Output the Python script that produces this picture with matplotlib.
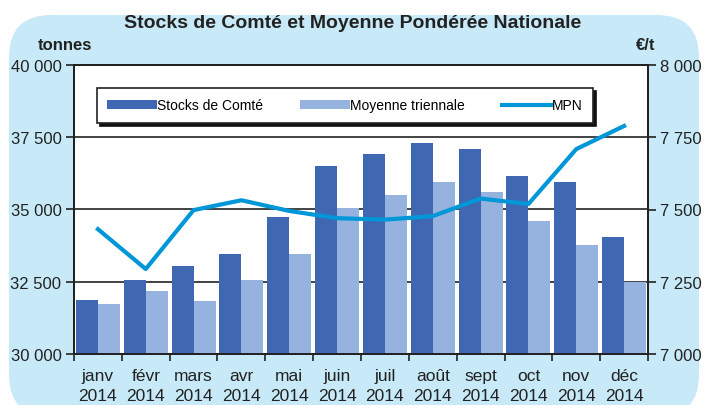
import matplotlib
matplotlib.use('Agg')
import matplotlib.pyplot as plt
import numpy as np
from matplotlib.patches import FancyBboxPatch, Patch
from matplotlib.lines import Line2D

plt.rcParams['font.family'] = ['Liberation Sans', 'DejaVu Sans']

# data
mois = ['janv', 'févr', 'mars', 'avr', 'mai', 'juin', 'juil', 'août', 'sept', 'oct', 'nov', 'déc']
annee = '2014'
stocks = [31870, 32560, 33050, 33460, 34740, 36500, 36920, 37300, 37090, 36160, 35950, 34050]
moyenne = [31730, 32180, 31830, 32560, 33460, 35050, 35500, 35950, 35600, 34600, 33770, 32490]
mpn = [7432, 7294, 7498, 7532, 7495, 7470, 7465, 7477, 7538, 7519, 7709, 7789]

dark = '#4068B2'
light = '#95B3DE'
line_col = '#0097D8'
bg = '#C7E9F8'

W, H = 706, 406
fig = plt.figure(figsize=(W / 100, H / 100), dpi=100)

# rounded light-blue panel
panel = FancyBboxPatch((9 / W, -12 / H), 690 / W, 402 / H,
                       boxstyle='round,pad=0,rounding_size=0.06',
                       transform=fig.transFigure, facecolor=bg, edgecolor='none',
                       mutation_aspect=W / H, zorder=0)
fig.patches.append(panel)

ax = fig.add_axes([74 / W, 1 - 355 / H, (648 - 74) / W, (355 - 66) / H])
ax.set_zorder(2)
ax.set_facecolor('white')

x = np.arange(len(mois))
bw = 0.46
ax.bar(x - bw / 2, stocks, width=bw, color=dark, zorder=3)
ax.bar(x + bw / 2, moyenne, width=bw, color=light, zorder=3)

ax.set_ylim(30000, 40000)
ax.set_xlim(-0.5, len(mois) - 0.5)
yt = [30000, 32500, 35000, 37500, 40000]
ax.set_yticks(yt)
ax.set_yticklabels([f'{v:,}'.replace(',', ' ') for v in yt], fontsize=12, color='#222222')
ax.yaxis.grid(True, color='#222222', linewidth=1.2, zorder=1)
ax.set_axisbelow(True)

ax.set_xticks(x)
ax.set_xticklabels([f'{m}\n{annee}' for m in mois], fontsize=12.5, color='#222222', linespacing=1.45)
ax.set_xticks(np.arange(-0.5, len(mois)), minor=True)
ax.tick_params(axis='x', which='major', length=0, pad=10)
ax.tick_params(axis='x', which='minor', length=5, width=1.2, color='#222222')
ax.tick_params(axis='y', length=6, width=1.2, color='#222222', pad=3)
for s in ax.spines.values():
    s.set_linewidth(1.4)
    s.set_color('#222222')

ax2 = ax.twinx()
ax2.plot(x, mpn, color=line_col, linewidth=3, zorder=5)
ax2.set_ylim(7000, 8000)
yt2 = [7000, 7250, 7500, 7750, 8000]
ax2.set_yticks(yt2)
ax2.set_yticklabels([f'{v:,}'.replace(',', ' ') for v in yt2], fontsize=12, color='#222222')
ax2.tick_params(axis='y', length=6, width=1.2, color='#222222', pad=3)
for s in ax2.spines.values():
    s.set_linewidth(1.4)
    s.set_color('#222222')

handles = [Patch(facecolor=dark, edgecolor='none'),
           Patch(facecolor=light, edgecolor='none'),
           Line2D([0], [0], color=line_col, linewidth=3)]
leg = ax2.legend(handles, ['Stocks de Comté', 'Moyenne triennale', 'MPN'],
                 loc='upper left', bbox_to_anchor=(16 / 574, 1 - 52 / 289, 510 / 574, 36 / 289),
                 mode='expand', ncol=3, fontsize=10, frameon=True, fancybox=False,
                 shadow={'color': '#111111', 'alpha': 1}, edgecolor='#222222',
                 handlelength=3.6, handleheight=0.6, handletextpad=0.0, borderpad=0.75,
                 columnspacing=1.0)
leg.get_frame().set_linewidth(1.2)

fig.text(0.5, 1 - 23 / H, 'Stocks de Comté et Moyenne Pondérée Nationale',
         ha='center', va='center', fontsize=14, fontweight='bold', color='#222222')
fig.text(38 / W, 1 - 46 / H, 'tonnes', ha='left', va='center', fontsize=12,
         fontweight='bold', color='#222222')
fig.text(636 / W, 1 - 46 / H, '€/t', ha='left', va='center', fontsize=12,
         fontweight='bold', color='#222222')

fig.savefig('out.png', dpi=100)
